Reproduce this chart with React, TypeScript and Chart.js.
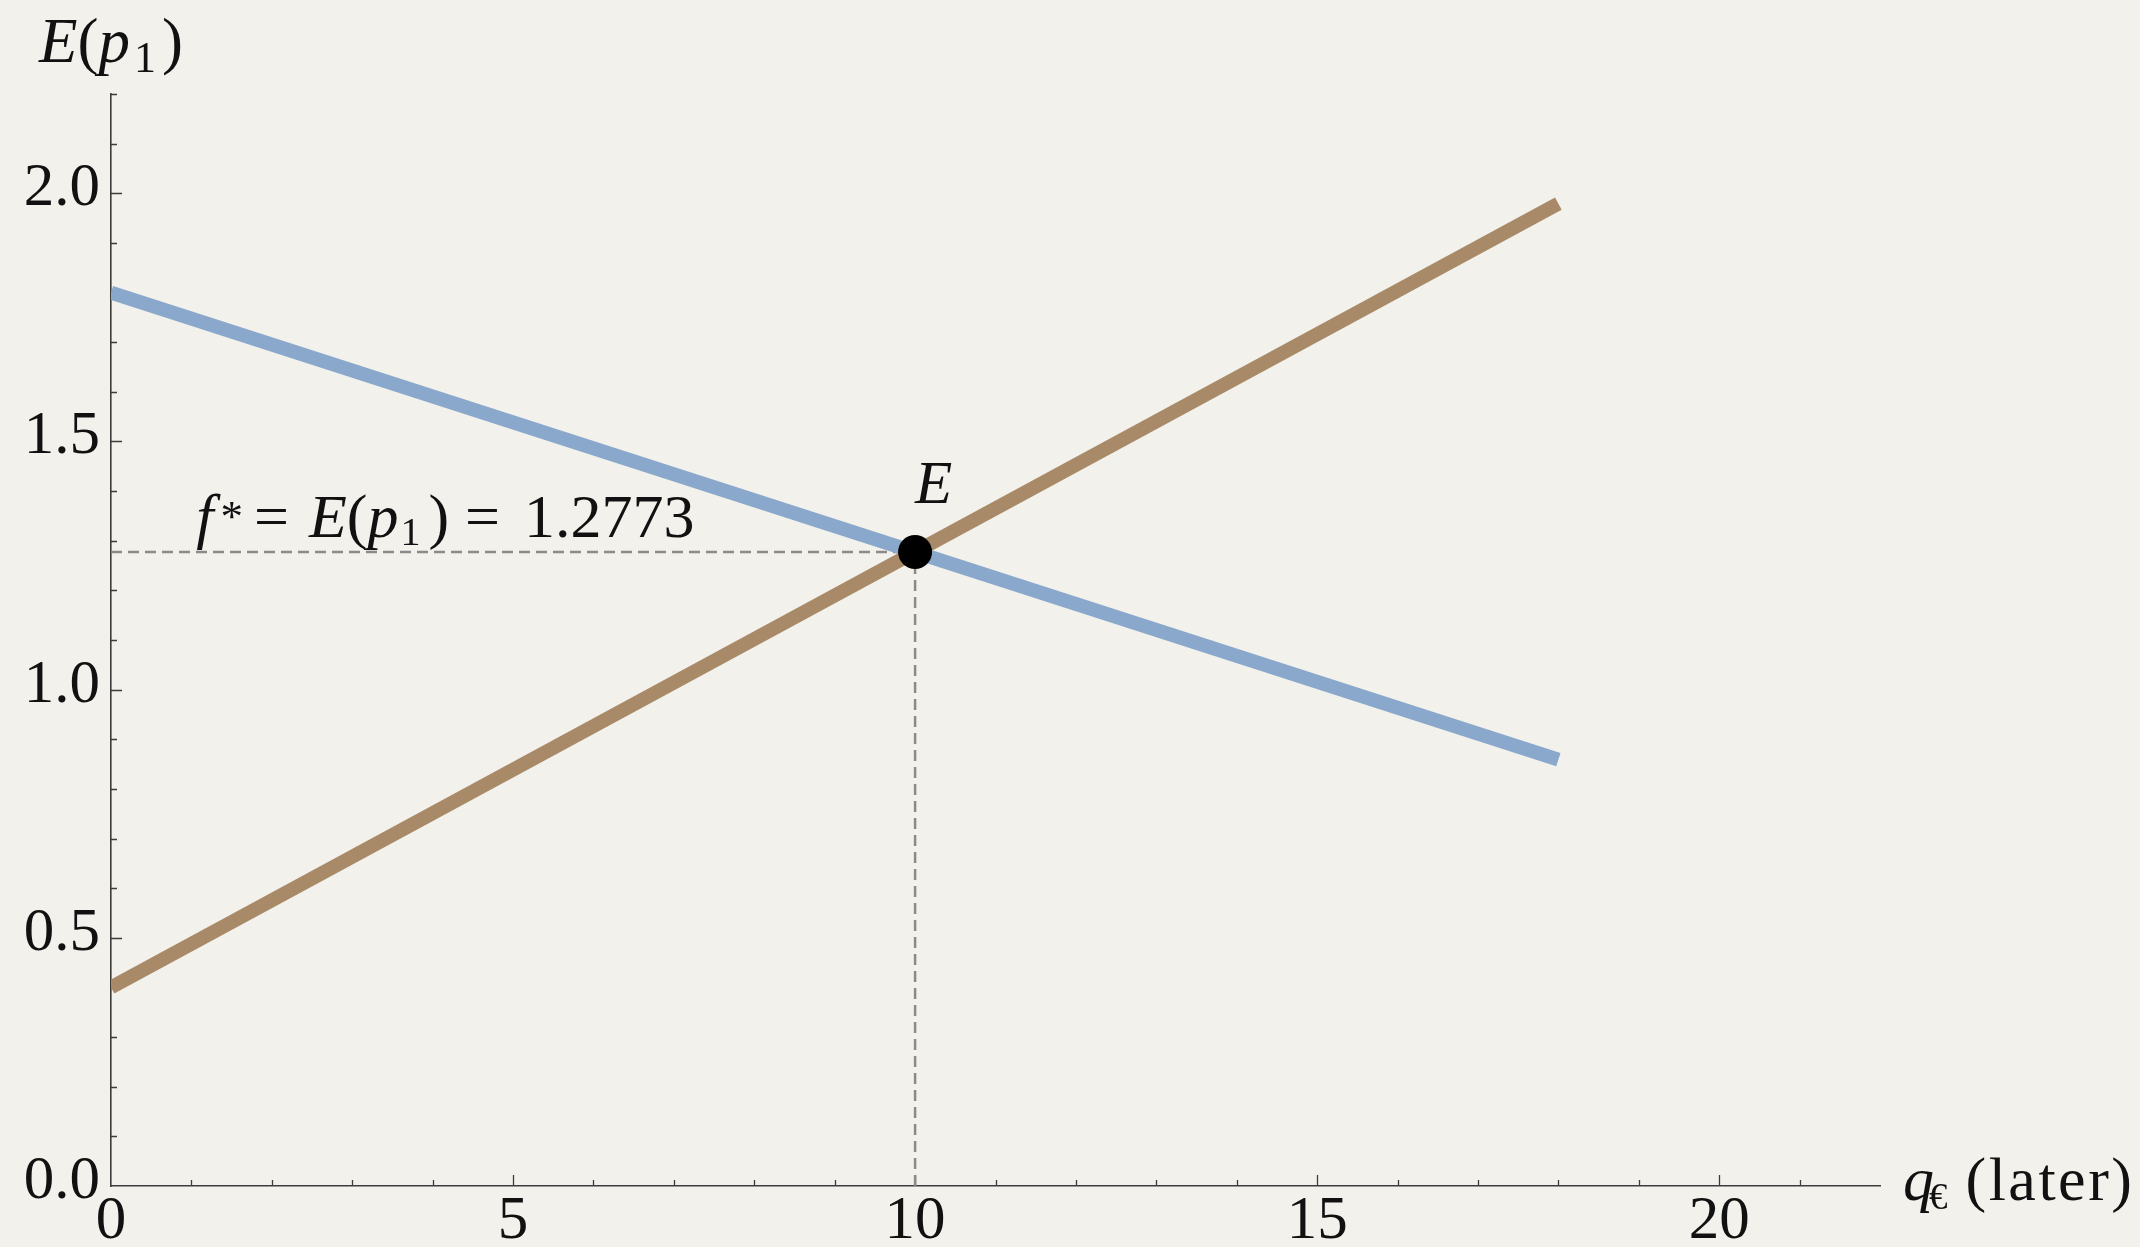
import { useEffect, useRef } from 'react';
import { Chart, registerables } from 'chart.js';

Chart.register(...registerables);

// ---- data ----
const xRange = [0, 22];
const yRange = [0, 2.2];
const lineX = [0, 18];
const blueY = [1.8, 0.8591];
const brownY = [0.4, 1.9791];
const eqX = [10];
const eqY = [1.2773];
const xMajorTicks = [0, 5, 10, 15, 20];
const yMajorTicks = [0, 0.5, 1.0, 1.5, 2.0];
const xLabelTexts = ['0', '5', '10', '15', '20'];
const yLabelTexts = ['0.0', '0.5', '1.0', '1.5', '2.0'];
const annotationX = [1.06];

// ---- style ----
const BG = '#F3F1EC';
const BLUE = '#89A8CB';
const BROWN = '#A88A68';
const AXIS = '#3c3c3c';
const DASH = '#8a8a8a';
const SERIF = '"Liberation Serif", "Times New Roman", serif';

type Seg = { t: string; it?: boolean; s?: number; dy?: number; dx?: number; ls?: number };

function drawRich(ctx: CanvasRenderingContext2D, segs: Seg[], x: number, y: number, size: number) {
  let cx = x;
  ctx.textAlign = 'left';
  ctx.textBaseline = 'alphabetic';
  for (const sg of segs) {
    const fs = Math.round(size * (sg.s ?? 1));
    ctx.font = `${sg.it ? 'italic ' : ''}${fs}px ${SERIF}`;
    (ctx as any).letterSpacing = `${sg.ls ?? 0}px`;
    cx += sg.dx ?? 0;
    ctx.fillText(sg.t, cx, y + (sg.dy ?? 0));
    cx += ctx.measureText(sg.t).width;
  }
  (ctx as any).letterSpacing = '0px';
}

function findIdx(arr: number[], v: number) {
  return arr.findIndex((a) => Math.abs(a - v) < 1e-6);
}

const bgPlugin = {
  id: 'bg',
  beforeDraw(chart: any) {
    const { ctx, width, height } = chart;
    ctx.save();
    ctx.fillStyle = BG;
    ctx.fillRect(0, 0, width, height);
    ctx.restore();
  },
};

const tickPlugin = {
  id: 'innerTicks',
  beforeDatasetsDraw(chart: any) {
    const { ctx, chartArea } = chart;
    const xs = chart.scales.x;
    const ys = chart.scales.y;
    ctx.save();
    ctx.strokeStyle = AXIS;
    ctx.lineWidth = 1.3;
    ctx.beginPath();
    for (const t of xs.ticks) {
      if (t.value <= xRange[0] || t.value >= xRange[1]) continue;
      const px = Math.round(xs.getPixelForValue(t.value)) + 0.5;
      const len = findIdx(xMajorTicks, t.value) >= 0 ? 11 : 6;
      ctx.moveTo(px, chartArea.bottom);
      ctx.lineTo(px, chartArea.bottom - len);
    }
    for (const t of ys.ticks) {
      if (t.value <= yRange[0] + 1e-9) continue;
      const py = Math.round(ys.getPixelForValue(t.value)) + 0.5;
      const len = findIdx(yMajorTicks, t.value) >= 0 ? 11 : 6;
      ctx.moveTo(chartArea.left, py);
      ctx.lineTo(chartArea.left + len, py);
    }
    ctx.stroke();
    ctx.restore();
  },
};

const textPlugin = {
  id: 'texts',
  afterDraw(chart: any) {
    const { ctx, chartArea } = chart;
    const xs = chart.scales.x;
    const ys = chart.scales.y;
    ctx.save();
    ctx.fillStyle = '#111';
    // y axis title
    drawRich(
      ctx,
      [
        { t: 'E', it: true },
        { t: '(' },
        { t: 'p', it: true },
        { t: '1', s: 0.7, dy: 10, dx: 4 },
        { t: ')', dx: 6 },
      ],
      chartArea.left - 72,
      chartArea.top - 32,
      63
    );
    // x axis title
    drawRich(
      ctx,
      [
        { t: 'q', it: true },
        { t: '€', s: 0.6, dy: 9, dx: -5 },
        { t: ' (later)', ls: 2.5 },
      ],
      chartArea.right + 23,
      chartArea.bottom + 14,
      62
    );
    // point label
    const px = xs.getPixelForValue(eqX[0]);
    const py = ys.getPixelForValue(eqY[0]);
    drawRich(ctx, [{ t: 'E', it: true }], px, py - 49, 61);
    // annotation
    drawRich(
      ctx,
      [
        { t: 'f', it: true },
        { t: '*', s: 0.72, dy: -6, dx: 7 },
        { t: '=', dx: 11 },
        { t: 'E', it: true, dx: 20 },
        { t: '(' },
        { t: 'p', it: true },
        { t: '1', s: 0.64, dy: 8, dx: 2 },
        { t: ')', dx: 8 },
        { t: '=', dx: 16 },
        { t: eqY[0].toFixed(4), dx: 24 },
      ],
      xs.getPixelForValue(annotationX[0]),
      py - 15,
      62
    );
    ctx.restore();
  },
};

export default function App() {
  const ref = useRef<HTMLCanvasElement | null>(null);
  useEffect(() => {
    document.body.style.margin = '0';
    document.body.style.background = BG;
    const canvas = ref.current!;
    const toPts = (xv: number[], yv: number[]) => xv.map((x, i) => ({ x, y: yv[i] }));
    const chart = new Chart(canvas, {
      type: 'scatter',
      data: {
        datasets: [
          {
            data: toPts(eqX, eqY),
            pointRadius: 17,
            pointBackgroundColor: '#000',
            pointBorderWidth: 0,
            showLine: false,
          },
          {
            data: toPts(lineX, brownY),
            showLine: true,
            borderColor: BROWN,
            borderWidth: 14,
            pointRadius: 0,
            borderCapStyle: 'butt',
          },
          {
            data: toPts(lineX, blueY),
            showLine: true,
            borderColor: BLUE,
            borderWidth: 14,
            pointRadius: 0,
            borderCapStyle: 'butt',
          },
          {
            data: [
              { x: xRange[0], y: eqY[0] },
              { x: eqX[0], y: eqY[0] },
            ],
            showLine: true,
            borderColor: DASH,
            borderWidth: 2.5,
            borderDash: [11, 6],
            pointRadius: 0,
          },
          {
            data: [
              { x: eqX[0], y: yRange[0] },
              { x: eqX[0], y: eqY[0] },
            ],
            showLine: true,
            borderColor: DASH,
            borderWidth: 2.5,
            borderDash: [11, 6],
            pointRadius: 0,
          },
        ],
      } as any,
      options: {
        responsive: false,
        animation: false,
        events: [],
        layout: { padding: { left: 0, right: 260, top: 94, bottom: 0 } },
        plugins: { legend: { display: false }, tooltip: { enabled: false } },
        scales: {
          x: {
            type: 'linear',
            min: xRange[0],
            max: xRange[1],
            grid: { display: false, drawTicks: false },
            border: { display: true, color: AXIS, width: 1.6 },
            afterFit: (s: any) => {
              s.height = 61;
            },
            ticks: {
              stepSize: 1,
              autoSkip: false,
              maxRotation: 0,
              padding: 5,
              color: '#111',
              font: { family: SERIF, size: 61, lineHeight: 1 },
              callback: (v: any) => {
                const i = findIdx(xMajorTicks, Number(v));
                return i >= 0 ? xLabelTexts[i] : '';
              },
            },
          },
          y: {
            type: 'linear',
            min: yRange[0],
            max: yRange[1],
            grid: { display: false, drawTicks: false },
            border: { display: true, color: AXIS, width: 1.6 },
            afterFit: (s: any) => {
              s.width = 111;
            },
            ticks: {
              stepSize: 0.1,
              autoSkip: false,
              padding: 11,
              labelOffset: -4,
              color: '#111',
              font: { family: SERIF, size: 61, lineHeight: 1 },
              callback: (v: any) => {
                const i = findIdx(yMajorTicks, Number(v));
                return i >= 0 ? yLabelTexts[i] : '';
              },
            },
          },
        },
      } as any,
      plugins: [bgPlugin, tickPlugin, textPlugin],
    });
    return () => chart.destroy();
  }, []);
  return (
    <div style={{ position: 'fixed', left: 0, top: 0, width: 2140, height: 1247 }}>
      <canvas ref={ref} width={2140} height={1247} style={{ width: 2140, height: 1247, display: 'block' }} />
    </div>
  );
}
